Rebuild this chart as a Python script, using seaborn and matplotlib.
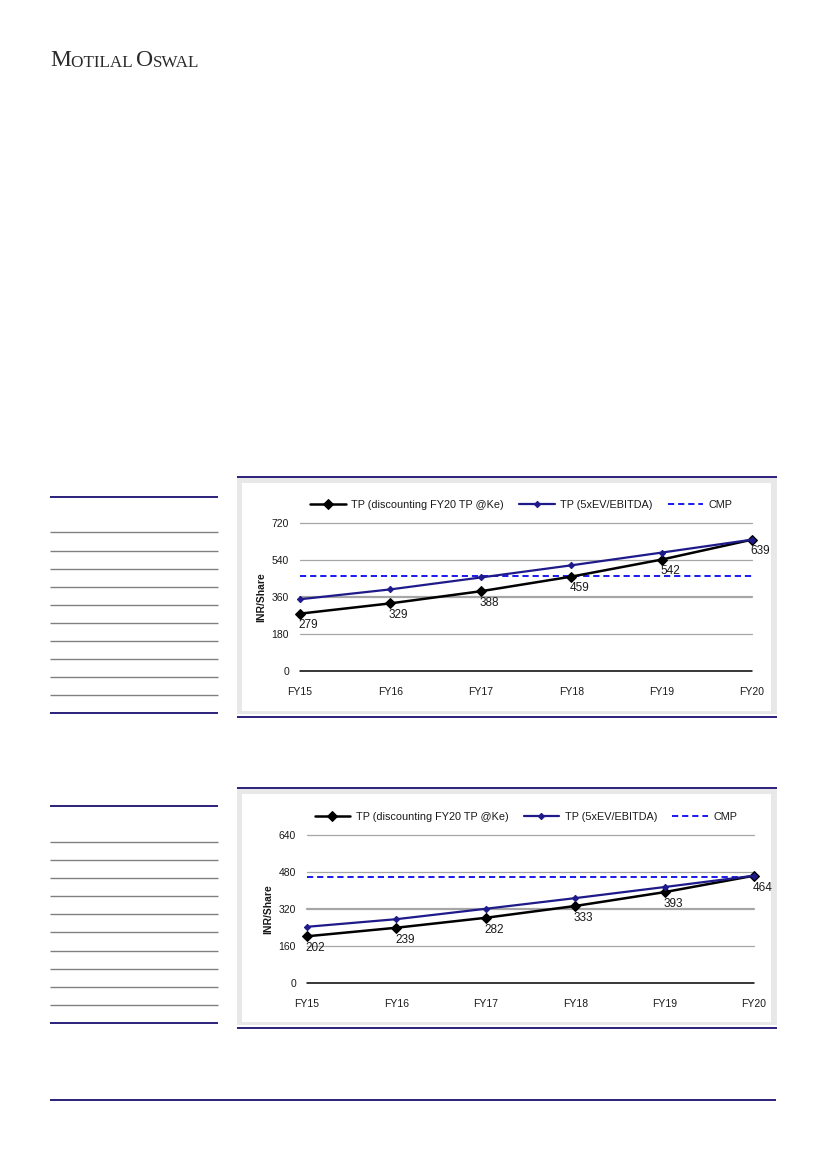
import numpy as np
import pandas as pd
import matplotlib
matplotlib.use("Agg")
import matplotlib.pyplot as plt
import seaborn as sns
from matplotlib.lines import Line2D
from matplotlib.patches import Rectangle
from matplotlib.text import Annotation

years = ["FY15", "FY16", "FY17", "FY18", "FY19", "FY20"]

# upper chart
tp_disc_1 = [279, 329, 388, 459, 542, 639]
tp_ev_1 = [349, 397, 455, 514, 576, 639]
cmp_1 = 460
yticks_1 = [0, 180, 360, 540, 720]

# lower chart
tp_disc_2 = [202, 239, 282, 333, 393, 464]
tp_ev_2 = [243, 276, 321, 367, 415, 464]
cmp_2 = 460
yticks_2 = [0, 160, 320, 480, 640]

legend_labels = ["TP (discounting FY20 TP @Ke)", "TP (5xEV/EBITDA)", "CMP"]

W, H = 826, 1169
NAVY = "#1b0f70"
EV_BLUE = "#1f1a8a"
CMP_BLUE = "#1a1aee"
GRID = "#a6a6a6"
TXT = "#1a1a1a"


def fx(x):
    return x / W


def fy(y):
    return 1 - y / H


def hline(fig, x0, x1, y, color, lw):
    fig.add_artist(Line2D([fx(x0), fx(x1)], [fy(y), fy(y)], transform=fig.transFigure,
                          color=color, lw=lw, solid_capstyle="butt"))


def box(fig, x0, x1, y0, y1, color):
    # pixel box (y0 top, y1 bottom) in figure coords
    fig.add_artist(Rectangle((fx(x0), fy(y1)), fx(x1) - fx(x0), fy(y0) - fy(y1),
                             transform=fig.transFigure, facecolor=color,
                             edgecolor="none", zorder=0))


def panel(fig, y_top, y_bot):
    """grey frame with white inside, dark rules above and below"""
    box(fig, 237, 777, y_top + 1, y_bot - 3, "#e8e8e8")
    box(fig, 242, 771, y_top + 6, y_bot - 6, "white")
    hline(fig, 237, 777, y_top, NAVY, 1.3)
    hline(fig, 237, 777, y_bot, NAVY, 1.3)


def side_table(fig, y_top, rows):
    hline(fig, 50, 218, y_top, NAVY, 1.3)
    for y in rows[:-1]:
        hline(fig, 50, 218, y, "#808080", 1.0)
    hline(fig, 50, 218, rows[-1], NAVY, 1.3)


def tp_chart(fig, rect, disc, ev, cmp_val, yticks):
    ax = fig.add_axes(rect)
    ax.set_facecolor("none")
    df = pd.DataFrame({"year": years, "disc": disc, "ev": ev})

    for i, t in enumerate(yticks[1:]):
        ax.axhline(t, color=GRID, lw=1.6 if i == 1 else 0.9, zorder=1, clip_on=False)
    ax.axhline(0, color="black", lw=1.1, zorder=1, clip_on=False)

    cmp_line = ax.axhline(cmp_val, color=CMP_BLUE, lw=1.4, ls=(0, (3.2, 2.0)), zorder=2)
    sns.lineplot(data=df, x="year", y="disc", color="black", lw=1.8, marker="D",
                 markersize=5.5, markeredgecolor="black", sort=False, ax=ax, zorder=3,
                 clip_on=False)
    sns.lineplot(data=df, x="year", y="ev", color=EV_BLUE, lw=1.6, marker="D",
                 markersize=3.2, markeredgecolor=EV_BLUE, sort=False, ax=ax, zorder=4,
                 clip_on=False)
    disc_line, ev_line = ax.lines[-2], ax.lines[-1]

    for i, v in enumerate(disc):
        ax.annotate(str(v), (i, v), xytext=(-1, -8.5), textcoords="offset points",
                    ha="left", va="center", fontsize=8.5, color=TXT, zorder=5)

    ax.set_xlim(0, len(years) - 1)
    ax.set_ylim(yticks[0], yticks[-1])
    ax.set_yticks(yticks)
    ax.set_yticklabels([str(t) for t in yticks])
    ax.tick_params(axis="both", length=0, labelsize=7.5, colors=TXT)
    ax.tick_params(axis="y", pad=8)
    ax.tick_params(axis="x", pad=11.5)
    ax.set_xlabel("")
    ax.set_ylabel("INR/Share", fontsize=7.5, fontweight="bold", color=TXT, labelpad=4)
    ax.grid(False)
    for s in ax.spines.values():
        s.set_visible(False)

    leg = ax.legend([disc_line, ev_line, cmp_line], legend_labels, loc="lower center",
                    bbox_to_anchor=(0.49, 1.06), ncol=3, frameon=False, fontsize=7.8,
                    handlelength=3.3, handletextpad=0.5, columnspacing=1.4, borderaxespad=0)
    for t in leg.get_texts():
        t.set_color(TXT)
    return ax


def logo(fig):
    """MOTILAL OSWAL in small caps, pieces chained one after another"""
    serif = ["Liberation Serif", "DejaVu Serif"]
    parts = [("M", 17), ("OTILAL ", 12.3), ("O", 17), ("SWAL", 12.3)]
    prev = fig.text(fx(50), fy(66), parts[0][0], fontsize=parts[0][1], family=serif,
                    color="#2a2a2a", va="baseline")
    for txt, size in parts[1:]:
        a = Annotation(txt, xy=(1, 0), xycoords=prev, fontsize=size, family=serif,
                       color="#2a2a2a", va="bottom", ha="left", annotation_clip=False)
        fig.add_artist(a)
        prev = a


def main():
    sns.set_style("white")
    plt.rcParams["font.family"] = ["Liberation Sans", "DejaVu Sans"]

    fig = plt.figure(figsize=(W / 100, H / 100), dpi=100)
    fig.patch.set_facecolor("white")

    logo(fig)

    # upper exhibit
    panel(fig, 477, 717)
    side_table(fig, 497, [532, 551, 569, 587, 605, 623, 641, 659, 677, 695, 713])
    tp_chart(fig, [fx(300), fy(671), fx(752) - fx(300), fy(523) - fy(671)],
             tp_disc_1, tp_ev_1, cmp_1, yticks_1)

    # lower exhibit
    panel(fig, 788, 1028)
    side_table(fig, 806, [842, 860, 878, 896, 914, 932, 951, 969, 987, 1005, 1023])
    tp_chart(fig, [fx(307), fy(983), fx(754) - fx(307), fy(835) - fy(983)],
             tp_disc_2, tp_ev_2, cmp_2, yticks_2)

    # footer rule
    hline(fig, 50, 776, 1100, NAVY, 1.3)

    fig.savefig("out.png", dpi=100, facecolor="white")
    plt.close(fig)


if __name__ == "__main__":
    main()
